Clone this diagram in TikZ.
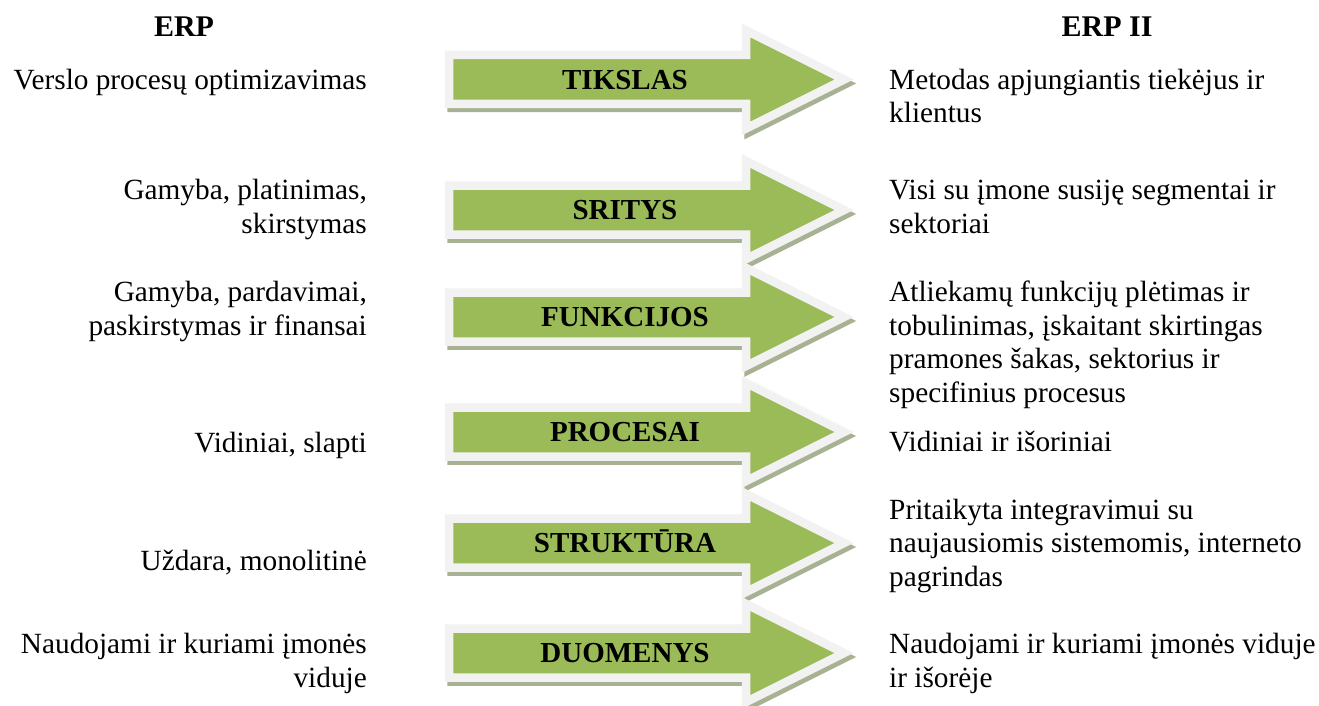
\documentclass[tikz,border=0pt]{standalone}
\usepackage{fontspec}
\setmainfont{Liberation Serif}
\definecolor{arrowgreen}{HTML}{9BBB59}
\definecolor{arrowrim}{HTML}{F2F2F2}
\definecolor{arrowshade}{HTML}{A7B293}
\tikzset{
  body/.style={font=\fontsize{29.3}{33.5}\selectfont, inner sep=0pt},
  % multi-line nodes: the base anchor sits on the last line
  leftcol/.style={body, align=right, anchor=base east},
  rightcol/.style={body, align=left, anchor=base west},
  colhead/.style={font=\fontsize{30}{34}\selectfont\bfseries, inner sep=0pt, anchor=base},
  tag/.style={font=\fontsize{29}{34}\selectfont\bfseries, inner sep=0pt, anchor=base},
  rim/.style={draw=arrowrim, fill=arrowgreen, line width=8.5pt, line join=miter},
  shade/.style={draw=arrowshade, fill=arrowshade, line width=8.5pt, line join=miter},
}
% block arrow centred on height #1, carrying the label #2 (node name #3)
\newcommand\erpblock[3]{%
  \path[shade, shift={(2.5,4)}]
    (449,{#1-24.5}) -- (746,{#1-24.5}) -- (746,{#1-49}) -- (844,#1)
    -- (746,{#1+49}) -- (746,{#1+24.5}) -- (449,{#1+24.5}) -- cycle;
  \path[rim]
    (449,{#1-24.5}) -- (746,{#1-24.5}) -- (746,{#1-49}) -- (844,#1)
    -- (746,{#1+49}) -- (746,{#1+24.5}) -- (449,{#1+24.5}) -- cycle;
  \node[tag] (#3) at (625,{#1+9.6}) {#2};%
}
\begin{document}
\begin{tikzpicture}[x=1pt,y=-1pt]
  \useasboundingbox[fill=white] (0,0) rectangle (1319,706);

  % column headings
  \node[colhead] (erp)   at (184,37)  {ERP};
  \node[colhead] (erp2)  at (1107,37) {ERP II};

  % arrows with their labels
  \erpblock{79.5}{TIKSLAS}{tikslas}
  \erpblock{210}{SRITYS}{sritys}
  \erpblock{317}{FUNKCIJOS}{funkcijos}
  \erpblock{432}{PROCESAI}{procesai}
  \erpblock{543}{STRUKTŪRA}{struktura}
  \erpblock{653}{DUOMENYS}{duomenys}

  % ERP side (positions are the baselines of the last lines)
  \node[leftcol] (l1) at (367,90)  {Verslo procesų optimizavimas};
  \node[leftcol] (l2) at (367,233) {Gamyba, platinimas,\\skirstymas};
  \node[leftcol] (l3) at (367,335) {Gamyba, pardavimai,\\paskirstymas ir finansai};
  \node[leftcol] (l4) at (367,452) {Vidiniai, slapti};
  \node[leftcol] (l5) at (367,570) {Uždara, monolitinė};
  \node[leftcol] (l6) at (367,687) {Naudojami ir kuriami įmonės\\viduje};

  % ERP II side
  \node[rightcol] (r1) at (889,123) {Metodas apjungiantis tiekėjus ir\\klientus};
  \node[rightcol] (r2) at (889,233) {Visi su įmone susiję segmentai ir\\sektoriai};
  \node[rightcol] (r3) at (889,402) {Atliekamų funkcijų plėtimas ir\\tobulinimas, įskaitant skirtingas\\pramones šakas, sektorius ir\\specifinius procesus};
  \node[rightcol] (r4) at (889,451) {Vidiniai ir išoriniai};
  \node[rightcol] (r5) at (889,586) {Pritaikyta integravimui su\\naujausiomis sistemomis, interneto\\pagrindas};
  \node[rightcol] (r6) at (889,687) {Naudojami ir kuriami įmonės viduje\\ir išorėje};
\end{tikzpicture}
\end{document}
